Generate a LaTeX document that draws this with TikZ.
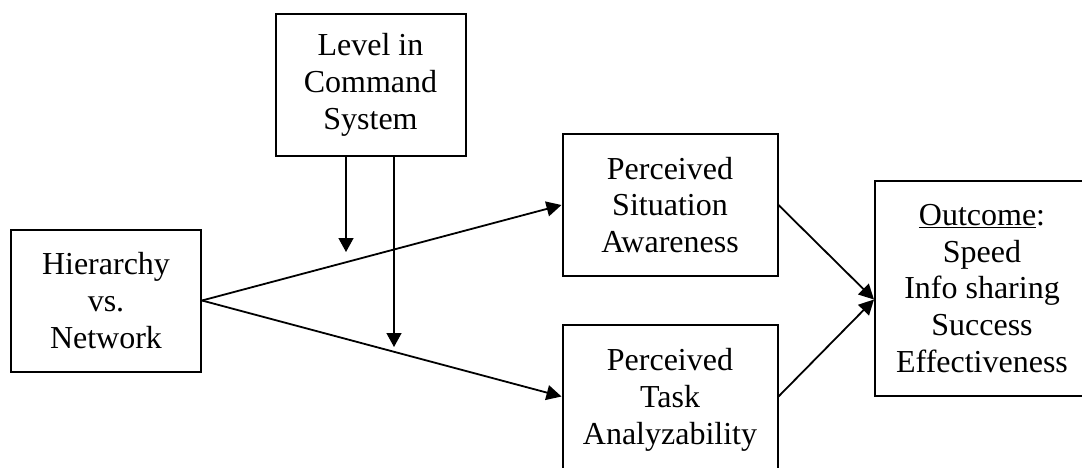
\documentclass[tikz,border=0pt]{standalone}
\usepackage{fontspec}
\setmainfont{Liberation Serif}
\usetikzlibrary{arrows.meta}
\begin{document}
\begin{tikzpicture}[x=1pt,y=-1pt,
  box/.style={draw,line width=2pt,rectangle,inner sep=0pt,align=center,
    font=\fontsize{32}{36.7}\selectfont},
  link/.style={line width=1.8pt,-{Triangle[length=15pt,width=15pt]}},
  modlink/.style={line width=1.4pt,-{Triangle[length=14pt,width=15pt]}}]
\useasboundingbox (0,0) rectangle (1082,467);
\clip (0,0) rectangle (1082,467);
\node[box,minimum width=190pt,minimum height=142pt] (lvl) at (370.5,85) {Level in\\Command\\System};
\node[box,minimum width=190pt,minimum height=142pt] (hier) at (106,300.5) {Hierarchy\\vs.\\Network};
\node[box,minimum width=215pt,minimum height=142pt] (sa) at (670,205) {Perceived\\Situation\\Awareness};
\node[box,minimum width=215pt,minimum height=150pt] (pta) at (670,400) {Perceived\\Task\\Analyzability};
\coordinate (ptaw) at (pta.west |- 0,396.5);
\coordinate (ptae) at (pta.east |- 0,396.5);
\node[box,minimum width=214pt,minimum height=215pt] (out) at (982,288.5) {\underline{Outcome}:\\Speed\\Info sharing\\Success\\Effectiveness};
\coordinate (m1) at (346,252);
\coordinate (m2) at (394,347);
\draw[link] (hier.east) -- (sa.west);
\draw[link] (hier.east) -- (ptaw);
\draw[modlink] (lvl.south -| m1) -- (m1);
\draw[modlink] (lvl.south -| m2) -- (m2);
\draw[link] (sa.east) -- ([yshift=-11pt]out.west);
\draw[link] (ptae) -- ([yshift=-11pt]out.west);
\end{tikzpicture}
\end{document}
